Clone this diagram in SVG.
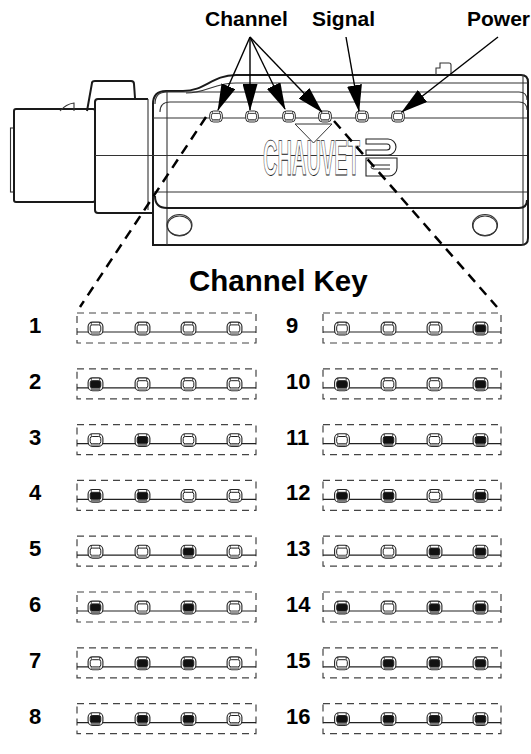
<svg xmlns="http://www.w3.org/2000/svg" width="531" height="754" viewBox="0 0 531 754">
<defs>
<style>
.lbl{font-family:"Liberation Sans",Arial,sans-serif;font-weight:bold;fill:#000}
.hdr{font-size:21px}
.num{font-size:22px}
.key{font-size:29.5px}
.thick{fill:none;stroke:#1a1a1a;stroke-width:2}
.thin{fill:none;stroke:#333;stroke-width:1.1}
.box{fill:none;stroke:#444;stroke-width:1.2;stroke-dasharray:7 5}
.rowline{stroke:#222;stroke-width:1.2}
.dash{fill:none;stroke:#000;stroke-width:2.5;stroke-dasharray:10 7}
.arrow{fill:none;stroke:#000;stroke-width:1.4;marker-end:url(#ah)}
</style>
<marker id="ah" viewBox="0 0 27 15" refX="26" refY="7.5" markerWidth="27" markerHeight="15" markerUnits="userSpaceOnUse" orient="auto"><path d="M0,0 L27,7.5 L0,15 Z" fill="#000"/></marker>
<symbol id="ledOff" viewBox="-8 -7 16 14" overflow="visible">
<rect x="-7.4" y="-6.4" width="14.8" height="12.8" rx="4.5" fill="#fff" stroke="#222" stroke-width="1.1"/>
<rect x="-5.3" y="-3.6" width="10.6" height="7.2" rx="2" fill="#fff" stroke="#222" stroke-width="1"/>
<path d="M-4.2,-6.2V-3.6M4.2,-6.2V-3.6M-4.2,3.6V6.2M4.2,3.6V6.2" stroke="#222" stroke-width="0.8"/>
<rect x="-4.2" y="3.7" width="8.4" height="2.3" fill="#999"/>
</symbol>
<symbol id="ledOn" viewBox="-8 -7 16 14" overflow="visible">
<rect x="-7.4" y="-6.4" width="14.8" height="12.8" rx="4.5" fill="#fff" stroke="#222" stroke-width="1.1"/>
<rect x="-5.3" y="-3.6" width="10.6" height="7.2" rx="2" fill="#111" stroke="#222" stroke-width="1"/>
<path d="M-4.2,-6.2V-3.6M4.2,-6.2V-3.6M-4.2,3.6V6.2M4.2,3.6V6.2" stroke="#222" stroke-width="0.8"/>
<rect x="-4.2" y="3.7" width="8.4" height="2.3" fill="#777"/>
</symbol>
</defs>
<rect width="531" height="754" fill="#fff"/>

<g id="device">
<rect x="10.5" y="128" width="3.5" height="64" class="thin"/>
<rect x="14" y="109" width="81" height="93" rx="2" class="thick"/>
<path d="M60,111 Q66,104 74,103 L74,111" class="thin"/>
<path d="M87,111 L92,83 Q92,81 95,81 L131,81 Q134,81 134,84 L135,98" class="thick"/>
<path d="M148,99 H98 Q95,99 95,102 V210 Q95,213 98,213 H153" class="thick"/>
<line x1="148" y1="99" x2="148" y2="210" class="thin"/>
<path d="M153,245 V104 Q153,91 166,91 H183 C205,91 212,75 236,75 H521 Q528,75 528,82 V238 Q528,245 521,245 Z" class="thick"/>
<path d="M186,93 C206,93 214,83 236,83 H528" class="thin"/>
<line x1="523" y1="75" x2="523" y2="245" class="thin"/>
<line x1="167" y1="91" x2="167" y2="245" class="thin"/>
<path d="M155,104 Q155,92 167,92 H519 Q527,92 527,100" class="thin"/>
<path d="M160,112 Q160,102 170,102 H519 Q527,102 527,110" class="thin"/>
<line x1="153" y1="118" x2="527" y2="118" class="thin"/>
<line x1="95" y1="155.5" x2="527" y2="155.5" class="thin"/>
<line x1="153" y1="192" x2="527" y2="192" class="thin"/>
<path d="M155,196 Q155,208 167,208 H519 Q527,208 527,200" class="thick"/>
<path d="M436,75 V68 H440 V63 H449 Q451,63 451,65 V75" class="thin"/>
<ellipse cx="179.5" cy="225" rx="12.5" ry="10.5" class="thin"/>
<ellipse cx="179.5" cy="226" rx="12" ry="10" class="thin"/>
<ellipse cx="485" cy="225" rx="12.5" ry="10.5" class="thin"/>
<ellipse cx="485" cy="226" rx="12" ry="10" class="thin"/>
<use href="#ledOff" x="208.5" y="110.5" width="15" height="12"/>
<use href="#ledOff" x="244.5" y="110.5" width="15" height="12"/>
<use href="#ledOff" x="281.5" y="110.5" width="15" height="12"/>
<use href="#ledOff" x="317.5" y="110.5" width="15" height="12"/>
<use href="#ledOff" x="354.5" y="110.5" width="15" height="12"/>
<use href="#ledOff" x="390.5" y="110.5" width="15" height="12"/>
<path d="M295,124 H332 L313.5,143 Z" fill="#fff" stroke="#333" stroke-width="1"/>
<text x="263" y="175" font-family="'Liberation Sans',sans-serif" font-weight="bold" font-size="50" textLength="97" lengthAdjust="spacingAndGlyphs" fill="#fff" stroke="#222" stroke-width="0.9" text-rendering="geometricPrecision">CHAUVET</text>
<path d="M366,139 H388 A8,8 0 0 1 388,155 H366 V150 H387 A3,3 0 0 0 387,144 H366 Z" fill="#fff" stroke="#222" stroke-width="1.1"/>
<path d="M366,158 H397 V168 A8,8 0 0 1 389,176 H366 Z" fill="#fff" stroke="#222" stroke-width="1.1"/>
<path d="M390,165 H374 Q371,165 371,167 Q371,169 374,169 H390" fill="none" stroke="#222" stroke-width="1"/>
</g>

<g id="labels">
<text class="lbl hdr" x="205" y="26">Channel</text>
<text class="lbl hdr" x="312" y="26">Signal</text>
<text class="lbl hdr" x="467" y="26">Power</text>
<text class="lbl key" x="189" y="291">Channel Key</text>
</g>

<g id="connectors">
<line x1="206" y1="117" x2="80" y2="307" class="dash"/>
<line x1="334" y1="121" x2="497" y2="307" class="dash"/>
<line x1="250" y1="37" x2="218" y2="110" class="arrow"/>
<line x1="250" y1="37" x2="250" y2="110" class="arrow"/>
<line x1="250" y1="37" x2="285" y2="109" class="arrow"/>
<line x1="250" y1="37" x2="322" y2="112" class="arrow"/>
<line x1="346" y1="37" x2="359" y2="111" class="arrow"/>
<line x1="498" y1="37" x2="402" y2="112" class="arrow"/>
</g>

<g id="row1" transform="translate(0,313)"><rect class="box" x="77" y="0" width="179" height="30"/><line class="rowline" x1="77" y1="19" x2="256" y2="19"/><text class="lbl num" x="29" y="20">1</text>
<use href="#ledOff" x="87.5" y="8.5" width="16" height="14"/><use href="#ledOff" x="134.5" y="8.5" width="16" height="14"/><use href="#ledOff" x="180.5" y="8.5" width="16" height="14"/><use href="#ledOff" x="226.5" y="8.5" width="16" height="14"/></g>
<g id="row2" transform="translate(0,368.8)"><rect class="box" x="77" y="0" width="179" height="30"/><line class="rowline" x1="77" y1="19" x2="256" y2="19"/><text class="lbl num" x="29" y="20">2</text>
<use href="#ledOn" x="87.5" y="8.5" width="16" height="14"/><use href="#ledOff" x="134.5" y="8.5" width="16" height="14"/><use href="#ledOff" x="180.5" y="8.5" width="16" height="14"/><use href="#ledOff" x="226.5" y="8.5" width="16" height="14"/></g>
<g id="row3" transform="translate(0,424.6)"><rect class="box" x="77" y="0" width="179" height="30"/><line class="rowline" x1="77" y1="19" x2="256" y2="19"/><text class="lbl num" x="29" y="20">3</text>
<use href="#ledOff" x="87.5" y="8.5" width="16" height="14"/><use href="#ledOn" x="134.5" y="8.5" width="16" height="14"/><use href="#ledOff" x="180.5" y="8.5" width="16" height="14"/><use href="#ledOff" x="226.5" y="8.5" width="16" height="14"/></g>
<g id="row4" transform="translate(0,480.4)"><rect class="box" x="77" y="0" width="179" height="30"/><line class="rowline" x1="77" y1="19" x2="256" y2="19"/><text class="lbl num" x="29" y="20">4</text>
<use href="#ledOn" x="87.5" y="8.5" width="16" height="14"/><use href="#ledOn" x="134.5" y="8.5" width="16" height="14"/><use href="#ledOff" x="180.5" y="8.5" width="16" height="14"/><use href="#ledOff" x="226.5" y="8.5" width="16" height="14"/></g>
<g id="row5" transform="translate(0,536.2)"><rect class="box" x="77" y="0" width="179" height="30"/><line class="rowline" x1="77" y1="19" x2="256" y2="19"/><text class="lbl num" x="29" y="20">5</text>
<use href="#ledOff" x="87.5" y="8.5" width="16" height="14"/><use href="#ledOff" x="134.5" y="8.5" width="16" height="14"/><use href="#ledOn" x="180.5" y="8.5" width="16" height="14"/><use href="#ledOff" x="226.5" y="8.5" width="16" height="14"/></g>
<g id="row6" transform="translate(0,592)"><rect class="box" x="77" y="0" width="179" height="30"/><line class="rowline" x1="77" y1="19" x2="256" y2="19"/><text class="lbl num" x="29" y="20">6</text>
<use href="#ledOn" x="87.5" y="8.5" width="16" height="14"/><use href="#ledOff" x="134.5" y="8.5" width="16" height="14"/><use href="#ledOn" x="180.5" y="8.5" width="16" height="14"/><use href="#ledOff" x="226.5" y="8.5" width="16" height="14"/></g>
<g id="row7" transform="translate(0,647.8)"><rect class="box" x="77" y="0" width="179" height="30"/><line class="rowline" x1="77" y1="19" x2="256" y2="19"/><text class="lbl num" x="29" y="20">7</text>
<use href="#ledOff" x="87.5" y="8.5" width="16" height="14"/><use href="#ledOn" x="134.5" y="8.5" width="16" height="14"/><use href="#ledOn" x="180.5" y="8.5" width="16" height="14"/><use href="#ledOff" x="226.5" y="8.5" width="16" height="14"/></g>
<g id="row8" transform="translate(0,703.6)"><rect class="box" x="77" y="0" width="179" height="30"/><line class="rowline" x1="77" y1="19" x2="256" y2="19"/><text class="lbl num" x="29" y="20">8</text>
<use href="#ledOn" x="87.5" y="8.5" width="16" height="14"/><use href="#ledOn" x="134.5" y="8.5" width="16" height="14"/><use href="#ledOn" x="180.5" y="8.5" width="16" height="14"/><use href="#ledOff" x="226.5" y="8.5" width="16" height="14"/></g>

<g id="row9" transform="translate(0,313)"><rect class="box" x="323" y="0" width="178" height="30"/><line class="rowline" x1="323" y1="19" x2="501" y2="19"/><text class="lbl num" x="286" y="20">9</text>
<use href="#ledOff" x="334" y="8.5" width="16" height="14"/><use href="#ledOff" x="380.5" y="8.5" width="16" height="14"/><use href="#ledOff" x="426.5" y="8.5" width="16" height="14"/><use href="#ledOn" x="472.5" y="8.5" width="16" height="14"/></g>
<g id="row10" transform="translate(0,368.8)"><rect class="box" x="323" y="0" width="178" height="30"/><line class="rowline" x1="323" y1="19" x2="501" y2="19"/><text class="lbl num" x="286" y="20">10</text>
<use href="#ledOn" x="334" y="8.5" width="16" height="14"/><use href="#ledOff" x="380.5" y="8.5" width="16" height="14"/><use href="#ledOff" x="426.5" y="8.5" width="16" height="14"/><use href="#ledOn" x="472.5" y="8.5" width="16" height="14"/></g>
<g id="row11" transform="translate(0,424.6)"><rect class="box" x="323" y="0" width="178" height="30"/><line class="rowline" x1="323" y1="19" x2="501" y2="19"/><text class="lbl num" x="286" y="20">11</text>
<use href="#ledOff" x="334" y="8.5" width="16" height="14"/><use href="#ledOn" x="380.5" y="8.5" width="16" height="14"/><use href="#ledOff" x="426.5" y="8.5" width="16" height="14"/><use href="#ledOn" x="472.5" y="8.5" width="16" height="14"/></g>
<g id="row12" transform="translate(0,480.4)"><rect class="box" x="323" y="0" width="178" height="30"/><line class="rowline" x1="323" y1="19" x2="501" y2="19"/><text class="lbl num" x="286" y="20">12</text>
<use href="#ledOn" x="334" y="8.5" width="16" height="14"/><use href="#ledOn" x="380.5" y="8.5" width="16" height="14"/><use href="#ledOff" x="426.5" y="8.5" width="16" height="14"/><use href="#ledOn" x="472.5" y="8.5" width="16" height="14"/></g>
<g id="row13" transform="translate(0,536.2)"><rect class="box" x="323" y="0" width="178" height="30"/><line class="rowline" x1="323" y1="19" x2="501" y2="19"/><text class="lbl num" x="286" y="20">13</text>
<use href="#ledOff" x="334" y="8.5" width="16" height="14"/><use href="#ledOff" x="380.5" y="8.5" width="16" height="14"/><use href="#ledOn" x="426.5" y="8.5" width="16" height="14"/><use href="#ledOn" x="472.5" y="8.5" width="16" height="14"/></g>
<g id="row14" transform="translate(0,592)"><rect class="box" x="323" y="0" width="178" height="30"/><line class="rowline" x1="323" y1="19" x2="501" y2="19"/><text class="lbl num" x="286" y="20">14</text>
<use href="#ledOn" x="334" y="8.5" width="16" height="14"/><use href="#ledOff" x="380.5" y="8.5" width="16" height="14"/><use href="#ledOn" x="426.5" y="8.5" width="16" height="14"/><use href="#ledOn" x="472.5" y="8.5" width="16" height="14"/></g>
<g id="row15" transform="translate(0,647.8)"><rect class="box" x="323" y="0" width="178" height="30"/><line class="rowline" x1="323" y1="19" x2="501" y2="19"/><text class="lbl num" x="286" y="20">15</text>
<use href="#ledOff" x="334" y="8.5" width="16" height="14"/><use href="#ledOn" x="380.5" y="8.5" width="16" height="14"/><use href="#ledOn" x="426.5" y="8.5" width="16" height="14"/><use href="#ledOn" x="472.5" y="8.5" width="16" height="14"/></g>
<g id="row16" transform="translate(0,703.6)"><rect class="box" x="323" y="0" width="178" height="30"/><line class="rowline" x1="323" y1="19" x2="501" y2="19"/><text class="lbl num" x="286" y="20">16</text>
<use href="#ledOn" x="334" y="8.5" width="16" height="14"/><use href="#ledOn" x="380.5" y="8.5" width="16" height="14"/><use href="#ledOn" x="426.5" y="8.5" width="16" height="14"/><use href="#ledOn" x="472.5" y="8.5" width="16" height="14"/></g>
</svg>
